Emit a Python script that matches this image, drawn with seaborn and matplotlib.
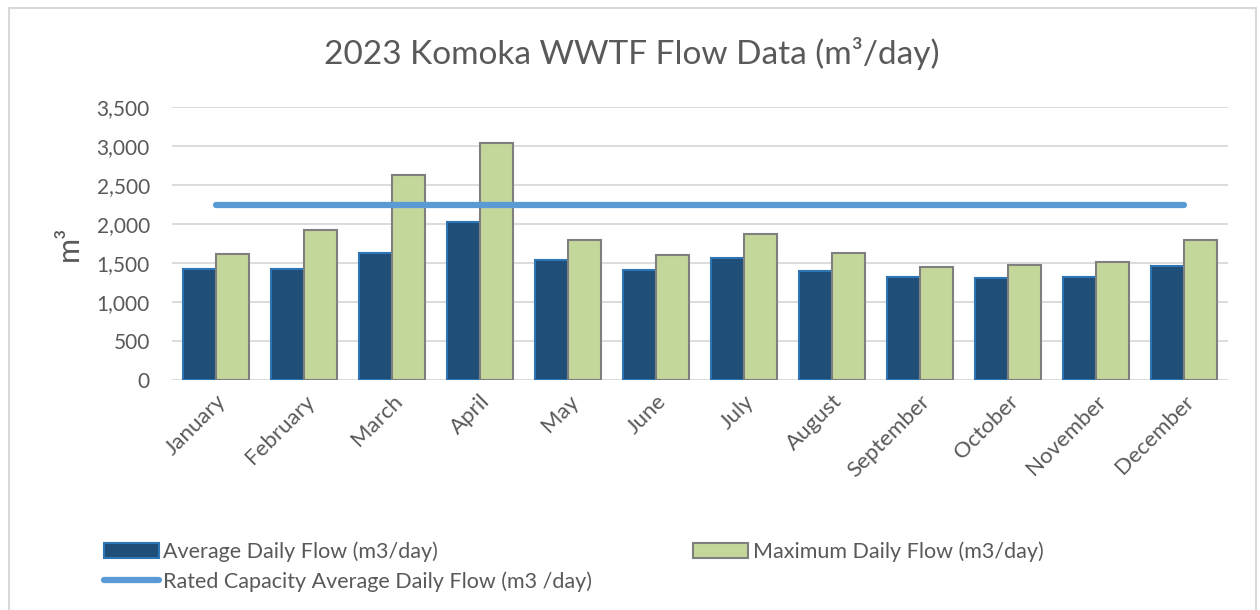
import pandas as pd
import matplotlib
matplotlib.use('Agg')
import matplotlib.pyplot as plt
import seaborn as sns
from matplotlib.patches import Patch, Rectangle
from matplotlib.lines import Line2D
from matplotlib.ticker import FuncFormatter

# --- Data ---
months = ['January', 'February', 'March', 'April', 'May', 'June',
          'July', 'August', 'September', 'October', 'November', 'December']
avg_flow = [1420, 1420, 1625, 2020, 1540, 1405, 1558, 1400, 1320, 1303, 1315, 1460]
max_flow = [1618, 1925, 2625, 3043, 1797, 1600, 1878, 1626, 1451, 1477, 1507, 1797]
rated_capacity = [2250, 2250, 2250, 2250, 2250, 2250, 2250, 2250, 2250, 2250, 2250, 2250]

avg_label = 'Average Daily Flow (m3/day)'
max_label = 'Maximum Daily Flow (m3/day)'
rated_label = 'Rated Capacity Average Daily Flow (m3 /day)'

# --- Colours ---
avg_color = '#1F4E79'
avg_edge = '#2E75B6'
max_color = '#C4D79B'
max_edge = '#7F7F7F'
line_color = '#5B9BD5'
text_color = '#595959'
grid_color = '#D9D9D9'

sns.set_theme(style='white')
plt.rcParams['font.family'] = ['Lato', 'DejaVu Sans']

long_df = pd.DataFrame({
    'month': months * 2,
    'flow': avg_flow + max_flow,
    'series': [avg_label] * len(months) + [max_label] * len(months),
})

fig = plt.figure(figsize=(12.6, 6.1), dpi=100)
ax = fig.add_axes([172 / 1260, 1 - 380 / 610, 1056 / 1260, 273 / 610])

sns.barplot(data=long_df, x='month', y='flow', hue='series', order=months,
            hue_order=[avg_label, max_label], palette=[avg_color, max_color],
            width=0.75, saturation=1, legend=False, ax=ax)

# edge colours per series
for patch, ec in zip(ax.patches, [avg_edge] * 12 + [max_edge] * 12):
    patch.set_edgecolor(ec)
    patch.set_linewidth(1.5)

sns.lineplot(x=months, y=rated_capacity, color=line_color, linewidth=4.5,
             solid_capstyle='round', ax=ax, legend=False)

ax.set_ylim(0, 3500)
ax.set_xlim(-0.5, 11.5)
ax.set_yticks(range(0, 3501, 500))
ax.yaxis.set_major_formatter(FuncFormatter(lambda v, p: f'{int(v):,}'))
ax.yaxis.grid(True, color=grid_color, linewidth=1.3)
ax.set_axisbelow(True)
for s in ax.spines.values():
    s.set_visible(False)

ax.tick_params(axis='y', labelsize=15, colors=text_color, length=0, pad=16)
ax.tick_params(axis='x', labelsize=16, colors=text_color, length=0, pad=8)
plt.setp(ax.get_xticklabels(), rotation=45, ha='right', rotation_mode='anchor')
ax.set_xlabel('')
ax.set_ylabel('m³', fontsize=22, color=text_color, labelpad=10)

fig.text(632 / 1260, 1 - 53 / 610, '2023 Komoka WWTF Flow Data (m³/day)',
         ha='center', va='center', fontsize=24, color=text_color)

# chart border
fig.patches.append(Rectangle((9 / 1260, -0.05), 1247 / 1260, 1 - 8 / 610 + 0.05,
                             transform=fig.transFigure, fill=False,
                             edgecolor=grid_color, linewidth=1.5))

handles = [
    Patch(facecolor=avg_color, edgecolor=avg_edge, linewidth=1.5, label=avg_label),
    Line2D([0], [0], color=line_color, linewidth=4.5, solid_capstyle='round', label=rated_label),
    Patch(facecolor=max_color, edgecolor=max_edge, linewidth=1.5, label=max_label),
]
leg = fig.legend(handles=handles, ncol=2, loc='upper left',
                 bbox_to_anchor=(104 / 1260, 1 - 541 / 610), frameon=False,
                 fontsize=15.5, handlelength=2.55, handletextpad=0.2,
                 columnspacing=4.7, labelspacing=0.45, borderaxespad=0,
                 borderpad=0)
for t in leg.get_texts():
    t.set_color(text_color)

fig.savefig('out.png', dpi=100)
